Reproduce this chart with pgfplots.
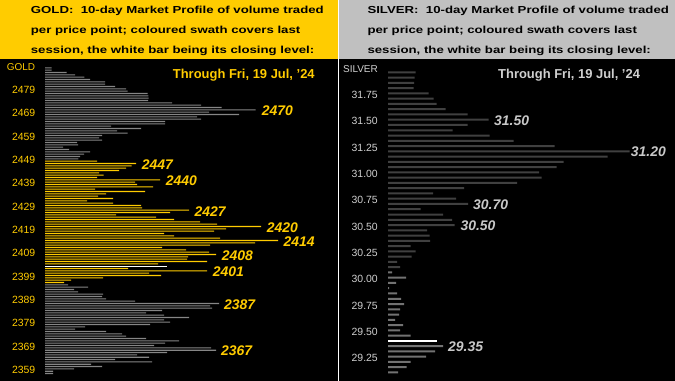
\documentclass[border=0pt]{standalone}
\usepackage{pgfplots}
\pgfplotsset{compat=1.18}
\usepackage{fontspec}
\setmainfont{Liberation Sans}
\newfontfamily\hdrfont{Liberation Sans}[FakeStretch=1.3]
\definecolor{gold}{HTML}{FFCC00}
\definecolor{ggray}{HTML}{868686}
\definecolor{sdark}{HTML}{404040}
\definecolor{sswath}{HTML}{727272}
\definecolor{slabel}{HTML}{C8C8C8}
\definecolor{stick}{HTML}{D0D0D0}
\definecolor{hdrgray}{HTML}{C0C0C0}
\begin{document}
\begin{tikzpicture}[x=1bp,y=1bp]
\useasboundingbox (0bp,0bp) rectangle (675bp,381bp);
\fill[white] (0bp,0bp) rectangle (675bp,381bp);
\fill[gold] (0bp,321.5bp) rectangle (337.5bp,381bp);
\fill[hdrgray] (339bp,321.5bp) rectangle (675bp,381bp);
% ---------------- GOLD ----------------
\begin{axis}[at={(0bp,0bp)}, anchor=south west, scale only axis,
  width=337.5bp, height=321.5bp,
  xmin=-135, xmax=877.5, ymin=2354.29, ymax=2492.07,
  axis background/.style={fill=black},
  axis line style={draw=none}, xtick=\empty, major tick length=0pt,
  ytick={2359,2369,...,2479},
  /pgf/number format/set thousands separator={},
  /pgf/number format/assume math mode=true,
  yticklabel style={font=\fontsize{10.5}{12}\selectfont, text=gold, inner sep=0pt, anchor=east, xshift=35.5bp},
  xbar, bar shift=0pt, bar width=1.15bp]
\addplot[fill=ggray, draw=none] coordinates {
(20,2488.5) (20,2487.5) (65,2486.5) (90,2485.5) (118,2484.5) (135,2483.5) (180,2482.5) (180,2481.5)
(210,2480.5) (243,2479.5) (248,2478.5) (308,2477.5) (310,2476.5) (311,2475.5) (309,2474.5) (381,2473.5)
(468,2472.5) (530,2471.5) (632,2470.5) (492,2469.5) (582,2468.5) (456,2467.5) (468,2466.5) (360,2465.5)
(360,2464.5) (198,2463.5) (288,2462.5) (216,2461.5) (248,2460.5) (171,2459.5) (162,2458.5) (171,2457.5)
(96,2456.5) (99,2455.5) (54,2454.5) (72,2453.5) (135,2452.5) (117,2451.5) (105,2450.5) (100,2449.5)
};
\addplot[fill=gold, draw=none] coordinates {
(156,2448.5) (273,2447.5) (260,2446.5) (243,2445.5) (222,2444.5) (162,2443.5) (176,2442.5) (156,2441.5)
(345,2440.5) (270,2439.5) (276,2438.5) (324,2437.5) (150,2436.5) (300,2435.5) (183,2434.5) (159,2433.5)
(204,2432.5) (126,2431.5) (204,2430.5) (288,2429.5) (291,2428.5) (432,2427.5) (375,2426.5) (213,2425.5)
(333,2424.5) (387,2423.5) (465,2422.5) (516,2421.5) (648,2420.5) (543,2419.5) (507,2418.5) (357,2417.5)
(387,2416.5) (525,2415.5) (699,2414.5) (630,2413.5) (495,2412.5) (351,2411.5) (423,2410.5) (492,2409.5)
(513,2408.5) (429,2407.5) (426,2406.5) (486,2405.5) (339,2404.5)
(249,2402.5) (486,2401.5) (312,2400.5) (348,2399.5) (174,2398.5) (78,2397.5) (57,2396.5)
};
\addplot[fill=white, draw=none] coordinates {(365,2403.5)};
\addplot[fill=ggray, draw=none] coordinates {
(69,2395.5) (129,2394.5) (87,2393.5) (99,2392.5) (174,2391.5) (171,2390.5) (183,2389.5) (270,2388.5)
(522,2387.5) (495,2386.5) (501,2385.5) (351,2384.5) (303,2383.5) (357,2382.5) (432,2381.5) (357,2380.5)
(375,2379.5) (315,2378.5) (120,2377.5) (90,2376.5) (183,2375.5) (231,2374.5) (243,2373.5) (303,2372.5)
(402,2371.5) (360,2370.5) (327,2369.5) (498,2368.5) (513,2367.5) (366,2366.5) (276,2365.5) (312,2364.5)
(210,2363.5) (321,2362.5) (138,2361.5) (171,2360.5) (87,2359.5) (24,2358.5) (24,2357.5)
};
\begin{scope}[every node/.style={anchor=west, inner sep=0pt, yshift=-1bp, text=gold, font=\bfseries\itshape\fontsize{14}{16}\selectfont}]
\node at (axis cs:650,2470.5) {2470};
\node at (axis cs:290,2447.5) {2447};
\node at (axis cs:362,2440.5) {2440};
\node at (axis cs:448,2427.5) {2427};
\node at (axis cs:665,2420.5) {2420};
\node at (axis cs:715,2414.5) {2414};
\node at (axis cs:530,2408.5) {2408};
\node at (axis cs:503,2401.5) {2401};
\node at (axis cs:537,2387.5) {2387};
\node at (axis cs:528,2367.5) {2367};
\end{scope}
\end{axis}
% ---------------- SILVER ----------------
\begin{axis}[at={(339bp,0bp)}, anchor=south west, scale only axis,
  width=336bp, height=321.5bp,
  xmin=-147, xmax=861, ymin=29.034, ymax=32.087,
  axis background/.style={fill=black},
  axis line style={draw=none}, xtick=\empty, major tick length=0pt,
  ytick={29.25,29.50,29.75,30.00,30.25,30.50,30.75,31.00,31.25,31.50,31.75},
  /pgf/number format/fixed, /pgf/number format/fixed zerofill, /pgf/number format/precision=2,
  /pgf/number format/assume math mode=true,
  yticklabel style={font=\fontsize{10.5}{12}\selectfont, text=stick, inner sep=0pt, anchor=east, xshift=39bp},
  xbar, bar shift=0pt, bar width=2bp]
\addplot[fill=sdark, draw=none] coordinates {
(83,31.965) (80,31.915) (78,31.865) (77,31.815) (122,31.765) (137,31.715) (146,31.665) (173,31.615)
(239,31.565) (302,31.515) (239,31.465) (194,31.415) (305,31.365) (377,31.315) (500,31.265) (725,31.215)
(659,31.165) (527,31.115) (506,31.065) (453,31.015) (461,30.965) (387,30.915) (228,30.865) (135,30.815)
(204,30.765) (240,30.715) (98,30.665) (165,30.615) (192,30.565) (200,30.515) (117,30.465) (125,30.415)
(126,30.365) (68,30.315) (83,30.265) (71,30.215) (27,30.165) (36,30.115)
};
\addplot[fill=sswath, draw=none] coordinates {
(12,30.065) (54,30.015) (24,29.965) (3,29.915) (27,29.865) (39,29.815) (48,29.765) (36,29.715)
(33,29.665) (21,29.615) (45,29.565) (36,29.515) (68,29.465)
(165,29.365) (141,29.315) (114,29.265) (68,29.215) (56,29.165) (30,29.115)
};
\addplot[fill=white, draw=none] coordinates {(147,29.415)};
\begin{scope}[every node/.style={anchor=west, inner sep=0pt, yshift=-0.8bp, text=slabel, font=\bfseries\itshape\fontsize{14}{16}\selectfont}]
\node at (axis cs:318,31.515) {31.50};
\node at (axis cs:728,31.215) {31.20};
\node at (axis cs:255,30.715) {30.70};
\node at (axis cs:217,30.515) {30.50};
\node at (axis cs:180,29.365) {29.35};
\end{scope}
\end{axis}
% ---------------- texts ----------------
\begin{scope}[every node/.style={anchor=base west, inner sep=0pt, font=\hdrfont\bfseries\fontsize{10.2}{12}\selectfont}]
\node at (30.7bp,367bp) {GOLD:\ \ 10-day Market Profile of volume traded};
\node at (30.7bp,347.3bp) {per price point; coloured swath covers last};
\node at (30.7bp,327.7bp) {session, the white bar being its closing level:};
\node at (367.3bp,367bp) {SILVER:\ \ 10-day Market Profile of volume traded};
\node at (367.3bp,347.3bp) {per price point; coloured swath covers last};
\node at (367.3bp,327.7bp) {session, the white bar being its closing level:};
\end{scope}
\node[anchor=east, inner sep=0pt, text=gold, font=\fontsize{10}{12}\selectfont] at (35.3bp,314.3bp) {GOLD};
\node[anchor=east, inner sep=0pt, text=stick, font=\fontsize{10}{12}\selectfont] at (378bp,312bp) {SILVER};
\node[anchor=base west, inner sep=0pt, text=gold, font=\bfseries\fontsize{13}{15}\selectfont] at (172.7bp,302.7bp) {Through Fri, 19 Jul, '24};
\node[anchor=base west, inner sep=0pt, text=stick, font=\bfseries\fontsize{13}{15}\selectfont] at (498bp,302.5bp) {Through Fri, 19 Jul, '24};
\end{tikzpicture}
\end{document}
